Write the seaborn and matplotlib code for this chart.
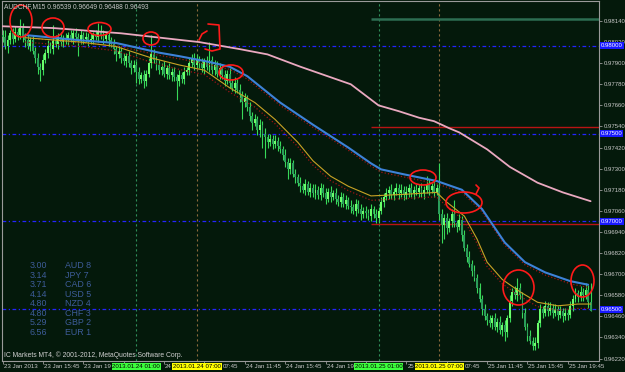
import matplotlib
matplotlib.use("Agg")
import numpy as np
import pandas as pd
import seaborn as sns
import matplotlib.pyplot as plt
from matplotlib.patches import Ellipse

# ---------------- data (prices in pips above BASE) ----------------
BASE = 0.96000
PIP = 0.0001

close = [
    205, 200, 203, 207, 204, 208, 206, 210, 205, 203,
    200, 203, 197, 193, 188, 186, 192,
    196, 200, 198, 203, 201, 205, 202, 204,
    203, 206, 204, 207, 205, 203, 206, 204, 205, 203,
    204, 206, 205, 208, 206, 204, 206, 203, 201,
    198, 195, 197, 193, 191, 194,
    190, 187, 189, 185,
    181, 183, 180, 184,
    190, 195, 192, 189,
    186, 188, 184, 187, 183, 185, 182,
    180, 183, 181, 185,
    186, 190, 193, 189, 192,
    190, 187, 191, 188, 192, 186, 189, 184, 187,
    183, 180, 184, 179, 176, 179, 175,
    172, 168, 170, 165, 160,
    156, 158, 152, 155, 150, 148,
    145, 147, 144, 146, 143, 141,
    138, 134, 130, 133, 127, 125, 122,
    120, 118, 121, 117, 119, 116,
    118, 115, 119, 116, 113, 117, 114,
    116, 113, 111, 114, 110, 112, 109,
    108, 106, 110, 107, 104, 106,
    105, 103, 107, 104, 102, 106,
    111, 114, 116, 118, 115, 117, 119, 116, 118, 115, 117, 119,
    116, 118, 117, 119, 116, 118, 121, 118, 120, 117, 119,
    104,
    98, 102, 96, 100, 104, 99, 97, 101,
    92, 85, 80, 76, 72, 68,
    62, 56, 50, 46, 44,
    42, 45, 40, 43, 38, 41, 37,
    45, 55, 60, 58,
    62, 58, 48,
    40, 35, 32, 29, 31,
    42, 50, 48, 52, 49,
    51, 48, 50, 47, 49, 46, 48, 47,
    52, 56, 59, 57, 60,
    58, 61, 53.9, 49.3,
]
wick_up = [
    3, 4, 3, 2, 3, 3, 2, 5, 3, 2,
    3, 2, 3, 2, 3, 2, 3, 2, 3, 2,
    9, 3, 2, 3, 2, 3, 2, 3, 2, 3,
    2, 3, 2, 3, 2, 3, 2, 3, 5, 4,
    3, 2, 3, 2, 3, 2, 3, 2, 3, 2,
    3, 2, 3, 2, 3, 2, 3, 2, 3, 11,
    3, 2, 3, 2, 3, 2, 3, 2, 3, 2,
    3, 2, 3, 2, 3, 2, 3, 3, 2, 3,
    2, 3, 10, 2, 3, 2, 3, 2, 3, 2,
    3, 2, 3, 2, 3, 2, 3, 2, 3, 2,
    3, 2, 3, 2, 3, 2, 3, 2, 3, 2,
    3, 2, 3, 2, 3, 2, 3, 2, 3, 2,
    3, 2, 3, 2, 3, 2, 3, 2, 3, 2,
    3, 2, 3, 2, 3, 2, 3, 2, 3, 2,
    3, 2, 3, 2, 3, 2, 3, 2, 3, 2,
    3, 2, 3, 2, 3, 2, 3, 2, 3, 2,
    3, 2, 3, 2, 3, 2, 3, 2, 5, 3,
    2, 3, 2, 14, 3, 2, 3, 2, 3, 8,
    2, 3, 2, 3, 2, 3, 2, 3, 2, 3,
    2, 3, 2, 3, 2, 3, 2, 3, 2, 3,
    2, 3, 2, 3, 6, 3, 2, 3, 2, 3,
    2, 3, 2, 3, 2, 3, 2, 3, 2, 3,
    2, 3, 2, 3, 2, 3, 2, 3, 2, 3,
    2, 4, 3, 11,
]
wick_dn = [
    3, 2, 4, 2, 3, 2, 3, 2, 3, 4,
    2, 3, 2, 3, 4, 6, 3, 2, 3, 2,
    3, 2, 3, 2, 3, 2, 3, 2, 3, 2,
    9, 2, 3, 2, 3, 2, 3, 2, 3, 2,
    3, 2, 3, 2, 3, 4, 2, 3, 2, 3,
    2, 3, 2, 6, 3, 2, 4, 3, 2, 3,
    2, 3, 2, 3, 2, 3, 2, 3, 2, 11,
    3, 2, 3, 2, 3, 2, 3, 2, 3, 2,
    3, 2, 3, 2, 3, 2, 3, 2, 3, 2,
    3, 2, 3, 2, 4, 10, 3, 2, 3, 4,
    2, 3, 4, 8, 12, 3, 2, 3, 2, 3,
    2, 3, 3, 6, 3, 2, 3, 2, 3, 2,
    3, 2, 3, 2, 3, 2, 3, 2, 3, 2,
    3, 2, 3, 2, 3, 2, 3, 2, 3, 2,
    3, 2, 3, 2, 3, 2, 3, 2, 3, 3,
    2, 3, 2, 3, 2, 3, 2, 3, 2, 3,
    2, 3, 2, 3, 2, 3, 2, 3, 2, 3,
    2, 3, 2, 3, 10, 8, 3, 2, 3, 2,
    3, 2, 3, 2, 3, 2, 3, 2, 3, 2,
    3, 2, 3, 2, 3, 2, 3, 2, 3, 5,
    3, 2, 3, 2, 3, 2, 3, 2, 3, 2,
    2, 2, 3, 2, 3, 2, 3, 2, 3, 2,
    3, 2, 3, 2, 3, 2, 3, 2, 3, 2,
    3, 2, 3, 0.5,
]
first_open = 206

# moving averages (bar index, pips)
pink_x = [0, 20, 47, 78, 94, 105, 118, 138, 149, 157, 165, 171, 177, 181, 192, 201, 212, 222, 233]
pink_y = [211, 210, 207, 202, 198, 195, 188, 178, 166, 162.7, 159, 157, 153, 150.6, 141, 131, 122, 116.5, 111.5]
blue_x = [9, 31, 45, 62, 70, 81, 90, 97, 110, 123, 137, 146, 150, 159, 172, 182, 190, 199, 207, 215, 225, 232]
blue_y = [206, 203, 201.5, 196, 194, 191, 188, 182.6, 167.6, 155, 142, 133, 129.6, 126.8, 123, 118, 107, 88, 76.8, 71, 66, 64]
reda_y = [204.5, 201.5, 200, 194.5, 192.5, 189.5, 186.5, 181, 166, 153.5, 140.5, 131.5, 128, 125.3, 121.5, 116.5, 105.5, 86.5, 75.3, 69.5, 64.5, 62.5]
orange_x = [9, 31, 45, 59, 70, 80, 90, 100, 108, 117, 123, 130, 137, 146, 159, 172, 176, 183, 188, 192, 198, 205, 212, 220, 228, 233]
orange_y = [204.5, 202, 199.5, 193, 189, 186, 176, 167.6, 158, 145, 134.5, 125.7, 120, 114.5, 115.4, 116.5, 111, 103, 90, 76.8, 67, 60, 54, 52, 53, 53]
redb_y = [202, 199.5, 197, 190.5, 186.5, 183.5, 173.5, 165, 155.5, 142.5, 132, 123.2, 117.5, 112, 113, 114, 108.5, 100.5, 87.5, 74.3, 64.5, 57.5, 51.5, 49.5, 50.5, 50.5]

round_levels = [0.98000, 0.97500, 0.97000, 0.96500]
green_level = 0.98153
red_levels = [0.97539, 0.96985]
session_lines_green = [53, 149]
session_lines_brown = [77, 173]
y_ticks = [0.96220 + 0.0012 * k for k in range(17)]

x_tick_bars = [16 * k for k in range(15)]
# visible parts of the time labels (the rest is hidden under the session boxes)
x_tick_labels = ["23 Jan 2013", "23 Jan 15:45", "23 Jan 19", "", "24",
                 "07:45", "24 Jan 11:45", "24 Jan 15:45", "24 Jan 19", "",
                 "25", "07:45", "25 Jan 11:45", "25 Jan 15:45", "25 Jan 19:45"]
green_boxes = ["2013.01.24 01:00", "2013.01.25 01:00"]
yellow_boxes = ["2013.01.24 07:00", "2013.01.25 07:00"]

strength_vals = ["3.00", "3.14", "3.71", "4.14", "4.80", "4.80", "5.29", "6.56"]
strength_ccy = ["AUD 8", "JPY 7", "CAD 6", "USD 5", "NZD 4", "CHF 3", "GBP 2", "EUR 1"]

title = "AUDCHF,M15 0.96539 0.96649 0.96488 0.96493"
copyright_txt = "IC Markets MT4, \u00a9 2001-2012, MetaQuotes Software Corp."

# ---------------- build frame ----------------
n = len(close)
cl = np.array(close, dtype=float)
op = np.concatenate([[first_open], cl[:-1]])
hi = np.maximum(op, cl) + np.array(wick_up)
lo = np.minimum(op, cl) - np.array(wick_dn)
df = pd.DataFrame({"bar": np.arange(n), "open": BASE + op * PIP, "close": BASE + cl * PIP,
                   "high": BASE + hi * PIP, "low": BASE + lo * PIP})
df["up"] = df["close"] >= df["open"]

BG = "#04190b"
sns.set_theme(style="dark", rc={"axes.facecolor": BG, "figure.facecolor": BG,
                                "axes.edgecolor": "#9a9a9a", "grid.color": BG})
plt.rcParams["font.family"] = ["Liberation Sans", "DejaVu Sans"]

W, H = 625, 372
fig = plt.figure(figsize=(W / 100, H / 100), dpi=100)
L, R, T, B = 2, 599, 1, 361
ax = fig.add_axes([L / W, (H - B) / H, (R - L) / W, (B - T) / H])
ax.set_facecolor(BG)
XMIN, XMAX = -0.2, -0.2 + (R - L) / 2.524
ymax = BASE + (214 + 20 / 1.758) * PIP
ymin = BASE + (214 - 340 / 1.758) * PIP
ax.set_xlim(XMIN, XMAX)
ax.set_ylim(ymin, ymax)

def fx(px):
    return px / W

def fy(py):
    return (H - py) / H

def bar_px(i):
    return L + (i - XMIN) * 2.524

def price_py(p):
    return B - (p - ymin) / (ymax - ymin) * (B - T)

# session lines and levels
for b in session_lines_green:
    ax.axvline(b, color="#2f8f5a", lw=0.8, ls=(0, (2, 2.5)), zorder=1)
for b in session_lines_brown:
    ax.axvline(b, color="#8a6a3c", lw=0.8, ls=(0, (2, 2.5)), zorder=1)
for lv in round_levels:
    ax.axhline(lv, color="#2424ff", lw=0.9, ls=(0, (3, 2, 1, 2)), zorder=1)
ax.hlines(green_level, 146, XMAX, color="#2d6e52", lw=1.8, zorder=1)
for lv in red_levels:
    ax.hlines(lv, 146, XMAX, color="#b81414", lw=1.0, zorder=1)

# candles
ax.vlines(df["bar"], df["low"], df["high"], colors="#38d858", lw=0.8, zorder=2)
body_lo = df[["open", "close"]].min(axis=1)
body_h = (df["close"] - df["open"]).abs().clip(lower=0.4 * PIP)
ax.bar(df["bar"], body_h, bottom=body_lo, width=0.75,
       color=np.where(df["up"], "#6bff6b", "#2a9d5a"), linewidth=0, zorder=3)

# moving averages
def ma(xs, ys, color, lw, ls="-"):
    sns.lineplot(x=xs, y=[BASE + v * PIP for v in ys], ax=ax, color=color, lw=lw,
                 linestyle=ls, sort=False, estimator=None, legend=False, zorder=4)

ma(pink_x, pink_y, "#eaa9c0", 1.3)
ma(blue_x, reda_y, "#a01414", 0.9, ":")
ma(blue_x, blue_y, "#3d82d8", 1.5)
ma(orange_x, redb_y, "#a01414", 0.9, ":")
ma(orange_x, orange_y, "#c9a325", 0.8)

# hand-drawn red annotations
def axfrac(px, py):
    return ((px - L) / (R - L), (B - py) / (B - T))

circles = [(21, 21, 22, 32), (53, 27.5, 22, 19), (99.5, 29, 23, 13), (151, 38.5, 16, 13),
           (231, 72.5, 24, 15), (423, 177.5, 26, 15), (464, 202.5, 36, 21),
           (518.5, 287.5, 31, 35), (582.5, 281, 23, 32)]
for cx, cy, w, h in circles:
    ax.add_patch(Ellipse(axfrac(cx, cy), w / (R - L), h / (B - T), transform=ax.transAxes,
                         fill=False, ec="#ff1a1a", lw=1.2, zorder=6))
bracket = [(208, 24), (219, 25), (220, 49), (212, 51), (205, 49)]
bx, by = zip(*[axfrac(p, q) for p, q in bracket])
ax.plot(bx, by, color="#ff1a1a", lw=1.2, transform=ax.transAxes, zorder=6)
curl = [(199, 40), (202, 34), (207, 31)]
cx_, cy_ = zip(*[axfrac(p, q) for p, q in curl])
ax.plot(cx_, cy_, color="#ff1a1a", lw=1.2, transform=ax.transAxes, zorder=6)
tail = [(476, 194), (479, 188), (476, 185)]
tx_, ty_ = zip(*[axfrac(p, q) for p, q in tail])
ax.plot(tx_, ty_, color="#ff1a1a", lw=1.2, transform=ax.transAxes, zorder=6)

# axes styling
ax.grid(False)
for s in ax.spines.values():
    s.set_color("#9a9a9a")
    s.set_linewidth(0.8)
ax.yaxis.tick_right()
ax.set_yticks(y_ticks)
ax.set_yticklabels([f"{v:.5f}" for v in y_ticks], fontsize=4.3, color="#c8c8c8")
ax.tick_params(axis="y", length=2.5, width=0.6, color="#9a9a9a", pad=1.2, right=True, left=False)
ax.set_xticks(x_tick_bars)
ax.set_xticklabels([])
ax.tick_params(axis="x", length=2, width=0.6, color="#9a9a9a", bottom=True)
ax.set_xlabel("")
ax.set_ylabel("")

# x labels (left aligned at tick), then session boxes
for b, lab in zip(x_tick_bars, x_tick_labels):
    if not lab:
        continue
    shift = 18 if lab == "07:45" else 1
    fig.text(fx(bar_px(b) + shift), fy(366.5), lab, fontsize=4.4, color="#c8c8c8",
             ha="left", va="center")
for b, lab in zip(session_lines_green, green_boxes):
    fig.text(fx(bar_px(b)), fy(366.5), lab, fontsize=4.4, color="black", ha="center", va="center",
             bbox=dict(boxstyle="square,pad=0.12", fc="#3cff3c", ec="none"))
for b, lab in zip(session_lines_brown, yellow_boxes):
    fig.text(fx(bar_px(b)), fy(366.5), lab, fontsize=4.4, color="black", ha="center", va="center",
             bbox=dict(boxstyle="square,pad=0.12", fc="#ffff00", ec="none"))

# price boxes on right axis
for lv in round_levels:
    fig.text(fx(601), fy(price_py(lv)), f"{lv:.5f}", fontsize=4.3, color="white", ha="left",
             va="center", bbox=dict(boxstyle="square,pad=0.12", fc="#1818ff", ec="none"))

# texts inside chart
fig.text(fx(4), fy(6.5), title, fontsize=4.8, color="#c8c8c8", ha="left", va="center")
fig.text(fx(4), fy(355), copyright_txt, fontsize=4.9, color="#d0d0d0", ha="left", va="center")
for k, (v, c) in enumerate(zip(strength_vals, strength_ccy)):
    y = 265.7 + k * 9.5
    fig.text(fx(30), fy(y), v, fontsize=6.4, color="#3d5c99", ha="left", va="center")
    fig.text(fx(65), fy(y), c, fontsize=6.4, color="#3d5c99", ha="left", va="center")

fig.savefig("out.png", dpi=100, facecolor=BG)
